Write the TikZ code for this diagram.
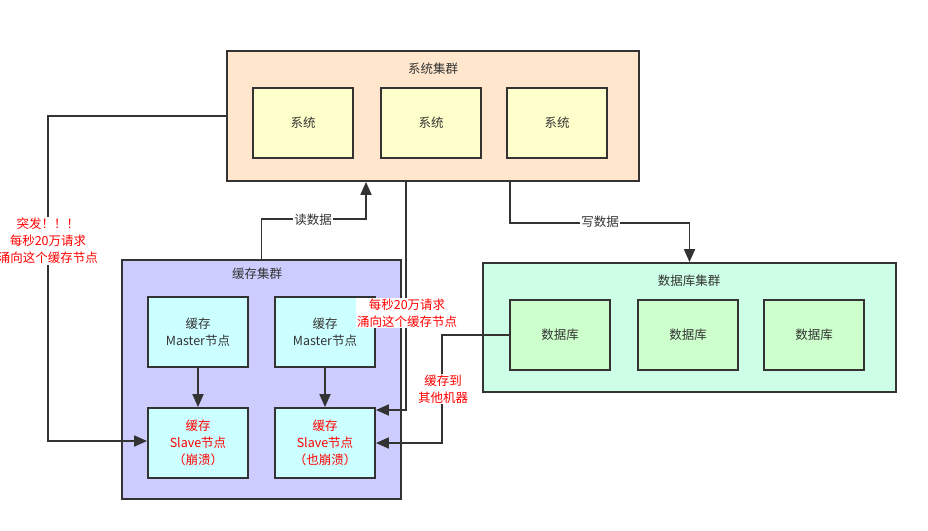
\documentclass[tikz,border=0pt]{standalone}
\usepackage{fontspec}
\setmainfont{Noto Sans CJK SC}
\usetikzlibrary{arrows.meta}
\definecolor{txt}{HTML}{333333}
\definecolor{ln}{HTML}{333333}
\definecolor{sysbg}{HTML}{FFE6CC}
\definecolor{sysbox}{HTML}{FFFFCC}
\definecolor{cachebg}{HTML}{CCCCFF}
\definecolor{cachebox}{HTML}{CCFFFF}
\definecolor{dbbg}{HTML}{CCFFE6}
\definecolor{dbbox}{HTML}{CCFFCC}
\definecolor{alert}{HTML}{FF0000}
\begin{document}
\begin{tikzpicture}[x=1pt,y=-1pt,
  font=\fontsize{12.5}{16.8}\selectfont,
  every node/.style={text=txt},
  cluster/.style={draw=ln,line width=1.8pt,rectangle,inner sep=0pt},
  box/.style={draw=ln,line width=1.8pt,rectangle,minimum width=100pt,minimum height=70pt,align=center,inner sep=0pt},
  arr/.style={draw=ln,line width=1.8pt,-{Triangle[length=13pt,width=11pt]}},
  lbl/.style={fill=white,inner sep=1pt,align=center},
  redlbl/.style={fill=white,inner sep=1pt,align=center,text=alert}
]
\useasboundingbox[fill=white] (0,0) rectangle (928,530);

% system cluster
\node[cluster,fill=sysbg,minimum width=412pt,minimum height=130pt] (sys) at (433,116) {};
\node (systitle) at (433,69) {系统集群};
\node[box,fill=sysbox] (sys1) at (303,123) {系统};
\node[box,fill=sysbox] (sys2) at (431,123) {系统};
\node[box,fill=sysbox] (sys3) at (557,123) {系统};

% cache cluster
\node[cluster,fill=cachebg,minimum width=279pt,minimum height=239pt] (cache) at (261.5,379.5) {};
\node (cachetitle) at (257,274) {缓存集群};
\node[box,fill=cachebox] (m1) at (198,332) {缓存\\Master节点};
\node[box,fill=cachebox] (m2) at (325,332) {缓存\\Master节点};
\node[box,fill=cachebox,text=alert] (s1) at (198,443) {缓存\\Slave节点\\（崩溃）};
\node[box,fill=cachebox,text=alert] (s2) at (325,443) {缓存\\Slave节点\\（也崩溃）};

% db cluster
\node[cluster,fill=dbbg,minimum width=413pt,minimum height=129pt] (db) at (689.5,327.5) {};
\node (dbtitle) at (689,281) {数据库集群};
\node[box,fill=dbbox] (db1) at (560,335) {数据库};
\node[box,fill=dbbox] (db2) at (688,335) {数据库};
\node[box,fill=dbbox] (db3) at (814,335) {数据库};

% connectors
\draw[arr] (m1) -- (s1);
\draw[arr] (m2) -- (s2);

\coordinate (L) at (48,441);
\draw[arr] (sys.west) -| (L) -- (s1.west |- L);
\node[redlbl] (burst) at (48,241) {突发！！！\\每秒20万请求\\涌向这个缓存节点};

\draw[arr] (cache.north) -- ++(0,-40) -| ([xshift=-67pt]sys.south);
\node[lbl] (read) at (313,220) {读数据};

\draw[arr] ([xshift=77pt]sys.south) -- ++(0,41) -| (db.north);
\node[lbl] (write) at (600,222) {写数据};

\draw[arr] ([xshift=-27pt]sys.south) |- ([yshift=33pt]s2.east);
\node[redlbl] (burst2) at (407,313) {每秒20万请求\\涌向这个缓存节点};

\draw[arr] (db1.west) -- ++(-67pt,0) |- (s2.east);
\node[redlbl] (migrate) at (443,389) {缓存到\\其他机器};
\end{tikzpicture}
\end{document}
